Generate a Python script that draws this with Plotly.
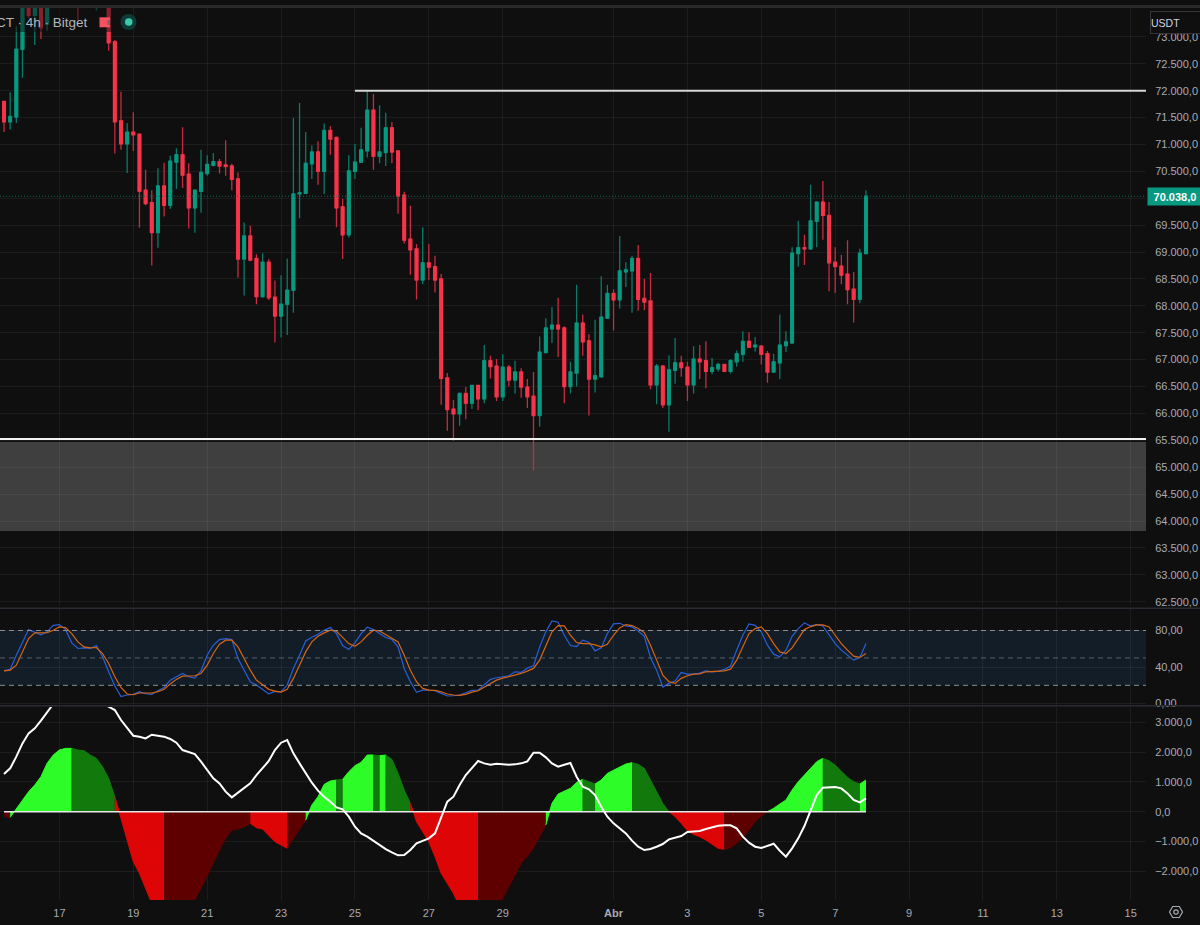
import pandas as pd
import plotly.graph_objects as go
from plotly.subplots import make_subplots

# 4h candles
opens = [
    71800, 71420, 71510, 72770, 73900, 73400, 73800, 73240, 73700, 74100,
    74350, 74200, 74000, 73800, 74000, 73900, 74100, 73800, 72910, 71440,
    71010, 71230, 71190, 70150, 69920, 69360, 70230, 69870, 70670, 70810,
    70450, 69820, 70130, 70460, 70610, 70680, 70620, 70600, 70360, 68870,
    69300, 68880, 68170, 68810, 68160, 67810, 68030, 68290, 70080, 70090,
    70640, 70860, 70500, 71260, 71130, 69840, 69320, 70500, 70670, 70880,
    71640, 70780, 70850, 71310, 70880, 70060, 69240, 69060, 68480, 68800,
    68730, 68500, 66660, 66080, 65990, 66370, 66190, 66520, 66270, 66980,
    66880, 66310, 66860, 66620, 66770, 66490, 66320, 65960, 67130, 67570,
    67640, 67590, 66500, 66750, 67680, 67350, 66640, 66680, 67770, 68230,
    68110, 68630, 68650, 68880, 68140, 68090, 66530, 66880, 66160, 66800,
    66940, 66860, 66530, 67010, 66980, 66780, 66830, 66910, 66780, 66960,
    67100, 67340, 67240, 67250, 67110, 66770, 66940, 67260, 67310, 68970,
    69080, 69060, 69570, 69930, 69680, 68810, 68740, 68590, 68310, 68120,
    68970,
]
highs = [
    71800, 71970, 73200, 74100, 74200, 74000, 74000, 73900, 74300, 74500,
    74700, 74600, 74300, 74200, 74300, 74400, 74300, 74000, 72940, 71980,
    71400, 71600, 71190, 70530, 70150, 70560, 70660, 70790, 70930, 71320,
    70650, 70150, 70900, 70800, 70840, 70730, 71080, 70640, 70480, 69550,
    69490, 68960, 68980, 68870, 68470, 68570, 68880, 71490, 71770, 71230,
    70980, 71060, 71390, 71340, 71150, 69990, 70800, 71010, 71310, 71990,
    71940, 71730, 71590, 71420, 70880, 70120, 69860, 69150, 69460, 69150,
    68930, 68590, 66750, 66250, 66390, 66490, 66530, 66530, 67270, 67070,
    67010, 67100, 66900, 66980, 66840, 66640, 66770, 67430, 67770, 67980,
    68150, 67620, 66960, 68390, 67840, 67470, 67740, 68550, 68390, 68310,
    69300, 68810, 68930, 69130, 68500, 68610, 66920, 66900, 67080, 67400,
    67070, 66960, 67250, 67270, 67340, 67030, 66940, 66920, 67010, 67170,
    67530, 67510, 67420, 67270, 67160, 67110, 67840, 67530, 69090, 69580,
    69320, 70250, 69930, 70320, 69930, 69090, 68950, 69220, 68630, 69060,
    70150,
]
lows = [
    71230, 71280, 71400, 72240, 73350, 72850, 72960, 73115, 73600, 73900,
    74100, 73900, 73310, 73600, 73700, 73490, 73700, 72740, 70830, 70900,
    70470, 70880, 69450, 69870, 68750, 69080, 69660, 69800, 70170, 70190,
    69440, 69360, 69730, 70420, 70590, 70460, 70420, 70150, 68520, 68190,
    68830, 68030, 68150, 68110, 67320, 67410, 67460, 67870, 69630, 70090,
    70360, 70250, 70080, 70810, 69460, 68870, 69270, 70360, 70670, 70760,
    70530, 70650, 70600, 70650, 69710, 69160, 68580, 68120, 68400, 68480,
    68250, 66160, 65680, 65490, 65770, 65890, 66080, 66060, 66190, 66650,
    66230, 66230, 66500, 66370, 66290, 66100, 64940, 65750, 67130, 67310,
    67050, 66190, 66370, 66500, 67070, 65960, 66390, 66680, 67770, 67540,
    67950, 68350, 67870, 67910, 67920, 66450, 66170, 66100, 65660, 66550,
    66680, 66230, 66370, 66640, 66470, 66730, 66780, 66770, 66740, 66870,
    66960, 67220, 67150, 66910, 66570, 66770, 66640, 67140, 67290, 68730,
    68760, 69040, 69090, 69230, 68270, 68240, 68400, 68030, 67690, 68050,
    68970,
]
closes = [
    71420, 71520, 72770, 73900, 73400, 73800, 73170, 73700, 74100, 74350,
    74200, 74000, 73800, 74000, 73900, 74100, 73800, 72890, 71420, 71010,
    71230, 71180, 70130, 69900, 69360, 70230, 69870, 70690, 70810, 70430,
    69820, 70150, 70480, 70630, 70680, 70600, 70590, 70350, 68870, 69300,
    68850, 68170, 68810, 68150, 67810, 68030, 68290, 70080, 70100, 70650,
    70860, 70500, 71260, 71100, 69820, 69320, 70510, 70670, 70900, 71640,
    70780, 70860, 71310, 70860, 70040, 69220, 69040, 68480, 68800, 68720,
    68480, 66650, 66070, 65990, 66370, 66190, 66520, 66270, 66980, 66870,
    66310, 66860, 66620, 66770, 66490, 66310, 65960, 67140, 67590, 67640,
    67570, 66500, 66770, 67680, 67330, 66640, 66700, 67790, 68230, 68110,
    68650, 68670, 68880, 68120, 68070, 66530, 66880, 66160, 66810, 66940,
    66850, 66530, 67010, 66960, 66780, 66850, 66910, 66780, 66980, 67110,
    67340, 67230, 67270, 67100, 66770, 66960, 67270, 67330, 68980, 69080,
    69060, 69580, 69930, 69680, 68800, 68730, 68570, 68300, 68120, 68980,
    70038,
]

# stochastic RSI
stoch_k = [
    35.9, 37.4, 53, 67.5, 81, 78.1, 75.2, 78.5, 85.7, 86.5,
    81, 66.5, 60.3, 61, 60.3, 63.6, 51.2, 34.8, 19.2, 7.6,
    9.4, 10.1, 13, 10.8, 10.1, 14.1, 17.7, 25.7, 29.4, 33,
    29.4, 27.9, 35.9, 53, 63.9, 70.1, 71.2, 70.1, 49.4, 36.6,
    23.9, 20.3, 15.6, 10.8, 13.4, 13, 20.3, 38.5, 53, 68.6,
    72.6, 75.9, 80.3, 83.2, 76.6, 63.6, 59.2, 66.5, 76.6, 83.5,
    81, 76.6, 72.3, 70.1, 62.1, 38.5, 23.9, 12.3, 14.8, 14.8,
    14.1, 11.2, 8.3, 8.6, 9.4, 11.9, 14.5, 14.8, 20.3, 26.5,
    28.3, 29, 30.5, 34.8, 34.1, 38.8, 41.4, 62.1, 78.5, 90.5,
    89, 74.8, 63.6, 62.5, 69.4, 67.2, 57.7, 61, 76.6, 87.2,
    87.9, 85, 83.9, 79.5, 73.7, 50.5, 36.6, 18.1, 22.1, 24.6,
    34.1, 32.3, 32.3, 33.4, 35.9, 34.8, 35.2, 37.4, 41, 58.5,
    74.8, 87.2, 85.7, 78.5, 63.9, 54.1, 51.2, 58.5, 73.7, 82.1,
    88.3, 85, 86.5, 85, 74.8, 65.7, 58.5, 53, 47.6, 50.5,
    65.7,
]
stoch_d = [
    35.9, 36.6, 42.1, 56.6, 71.2, 77.4, 77.7, 77.7, 80.3, 83.9,
    83.2, 76.6, 67.5, 62.1, 61, 61.4, 54.8, 43.9, 29.4, 17.7,
    10.5, 9.7, 11.6, 11.6, 11.6, 13, 15.6, 21.4, 26.5, 30.1,
    30.1, 30.5, 33, 42.1, 54.8, 65, 69.4, 69.4, 62.1, 49.4,
    36.6, 25.7, 20.3, 15.6, 13.7, 12.6, 15.6, 27.6, 42.1, 56.6,
    67.5, 73.7, 77.4, 80.3, 79.2, 72.3, 65.7, 62.8, 67.5, 74.8,
    80.3, 79.5, 75.5, 72.3, 67.5, 53, 36.6, 23.9, 16.6, 14.8,
    14.5, 13, 10.5, 9.4, 9, 10.1, 12.6, 14.1, 17.7, 22.1,
    25.7, 27.9, 29.4, 31.6, 33, 35.6, 38.5, 47.6, 63.9, 78.5,
    85.4, 85, 74.8, 66.8, 65.7, 65.7, 64.3, 62.1, 65, 74.8,
    82.8, 86.5, 85.4, 82.1, 77.7, 63.9, 47.6, 31.2, 23.9, 22.1,
    27.6, 30.5, 32.3, 32.6, 34.8, 35.2, 35.2, 35.9, 37.7, 47.6,
    62.1, 76.6, 82.1, 83.9, 76.6, 65.7, 56.6, 54.8, 61, 71.2,
    81, 84.3, 86.1, 86.1, 83.9, 74.8, 65.7, 58.5, 51.9, 50.5,
    54.8,
]

# lower momentum panel
hist = [
    -168, -190, 112, 392, 671, 895, 1175, 1622, 1902, 2069,
    2125, 2125, 2069, 2047, 1902, 1790, 1510, 1119, 503, -224,
    -951, -1678, -2069, -2573, -3020, -3635, -4083, -4083, -4195, -4083,
    -3859, -2964, -2573, -2125, -1734, -1286, -895, -615, -582, -503,
    -392, -537, -582, -783, -1007, -1119, -1230, -928, -615, -280,
    224, 503, 917, 1029, 1063, 1085, 1342, 1544, 1656, 1902,
    1902, 1879, 1902, 1756, 1286, 727, 280, -336, -671, -1007,
    -1510, -2069, -2405, -2741, -3188, -3747, -4083, -4307, -4754, -4083,
    -3356, -2908, -2517, -2125, -1734, -1488, -1230, -839, -447, 280,
    593, 694, 783, 984, 1085, 1007, 928, 1063, 1286, 1398,
    1510, 1600, 1644, 1588, 1454, 1063, 671, 280, 0, -168,
    -392, -638, -761, -839, -951, -1096, -1230, -1264, -1208, -1063,
    -861, -615, -336, -145, 0, 112, 257, 392, 727, 1007,
    1230, 1454, 1678, 1790, 1711, 1566, 1342, 1152, 1007, 928,
    1063,
]
signal = [
    1264, 1454, 1846, 2293, 2629, 2797, 3054, 3322, 3613, 3971,
    4083, 4139, 4083, 3971, 3859, 3747, 3635, 3546, 3412, 3076,
    2797, 2550, 2517, 2461, 2584, 2562, 2517, 2439, 2315, 2069,
    2002, 1935, 1678, 1398, 1119, 951, 671, 481, 638, 783,
    951, 1230, 1454, 1700, 2069, 2315, 2405, 1958, 1622, 1286,
    973, 705, 503, 336, 145, 78, -168, -503, -727, -839,
    -984, -1119, -1253, -1365, -1465, -1454, -1286, -1063, -973, -895,
    -727, -168, 336, 503, 895, 1230, 1477, 1700, 1622, 1577,
    1611, 1588, 1577, 1588, 1622, 1689, 1980, 1980, 1823, 1622,
    1510, 1577, 1633, 1175, 839, 749, 559, 168, -168, -392,
    -559, -727, -973, -1175, -1286, -1253, -1175, -1085, -928, -873,
    -817, -682, -660, -649, -582, -526, -470, -459, -459, -559,
    -839, -1040, -1175, -1219, -1141, -1074, -1309, -1510, -1230, -895,
    -481, 56, 559, 805, 817, 828, 783, 615, 392, 313,
    447,
]
# colour runs of the histogram, candle index where each run starts
hist_starts = [0, 1, 11, 18, 26, 40, 46, 49, 54, 55, 60, 61, 62, 66, 77, 88, 94, 96, 102, 108, 117, 124, 133, 139]
hist_kinds = ["dn2", "up1", "up2", "dn1", "dn2", "dn1", "dn2", "up1", "up2", "up1", "up2", "up1", "up2",
              "dn1", "dn2", "up1", "up2", "up1", "up2", "dn1", "dn2", "up1", "up2", "up1"]

price_ticks = [73000, 72500, 72000, 71500, 71000, 70500, 70000, 69500, 69000, 68500, 68000, 67500,
               67000, 66500, 66000, 65500, 65000, 64500, 64000, 63500, 63000, 62500]
price_labels = ["73.000,0", "72.500,0", "72.000,0", "71.500,0", "71.000,0", "70.500,0", "", "69.500,0",
                "69.000,0", "68.500,0", "68.000,0", "67.500,0", "67.000,0", "66.500,0", "66.000,0",
                "65.500,0", "65.000,0", "64.500,0", "64.000,0", "63.500,0", "63.000,0", "62.500,0"]
stoch_ticks = [0, 40, 80]
stoch_labels = ["0,00", "40,00", "80,00"]
hist_ticks = [3000, 2000, 1000, 0, -1000, -2000]
hist_labels = ["3.000,0", "2.000,0", "1.000,0", "0,0", "−1.000,0", "−2.000,0"]
date_ticks = ["2024-03-17", "2024-03-19", "2024-03-21", "2024-03-23", "2024-03-25", "2024-03-27", "2024-03-29",
              "2024-04-01", "2024-04-03", "2024-04-05", "2024-04-07", "2024-04-09", "2024-04-11", "2024-04-13",
              "2024-04-15"]
date_labels = ["17", "19", "21", "23", "25", "27", "29", "<b>Abr</b>", "3", "5", "7", "9", "11", "13", "15"]

dates = pd.date_range("2024-03-15 12:00", periods=len(closes), freq="4h")

BG = "#0f0f0f"
GRID = "rgba(255,255,255,0.055)"
TEXT = "#a8abb3"
FONT = "Liberation Sans"
UP = "#089981"
DOWN = "#f7344a"
HIST_COLOURS = {"up1": "#2efc28", "up2": "#127a0c", "dn1": "#dd0505", "dn2": "#5e0000"}
PLOT_W = 1146
PLOT_TOP = 8
PLOT_H = 892


def px(x):
    return x / PLOT_W


def py(y):
    return 1 - (y - PLOT_TOP) / PLOT_H


def paper_rect(x0, y0, x1, y1, **kw):
    fig.add_shape(type="rect", xref="paper", yref="paper", x0=px(x0), y0=py(y0), x1=px(x1), y1=py(y1), **kw)


fig = make_subplots(rows=3, cols=1, shared_xaxes=True, vertical_spacing=0.0)

# wicks first, then the bodies on top in the brighter colour
body_high = [max(o, c) for o, c in zip(opens, closes)]
body_low = [min(o, c) for o, c in zip(opens, closes)]
fig.add_trace(go.Candlestick(
    x=dates, open=opens, high=highs, low=lows, close=closes,
    increasing=dict(line=dict(color="#0b7a68", width=1.3), fillcolor=UP),
    decreasing=dict(line=dict(color="#c92a40", width=1.3), fillcolor=DOWN),
    whiskerwidth=0,
), row=1, col=1)
fig.add_trace(go.Candlestick(
    x=dates, open=opens, high=body_high, low=body_low, close=closes,
    increasing=dict(line=dict(color=UP, width=1), fillcolor=UP),
    decreasing=dict(line=dict(color=DOWN, width=1), fillcolor=DOWN),
    whiskerwidth=0,
), row=1, col=1)

fig.add_trace(go.Scatter(x=dates, y=stoch_k, mode="lines", line=dict(color="#2a5fd8", width=1.2)), row=2, col=1)
fig.add_trace(go.Scatter(x=dates, y=stoch_d, mode="lines", line=dict(color="#d9660f", width=1.2)), row=2, col=1)

for n, start in enumerate(hist_starts):
    end = hist_starts[n + 1] if n + 1 < len(hist_starts) else len(hist) - 1
    colour = HIST_COLOURS[hist_kinds[n]]
    fig.add_trace(go.Scatter(x=dates[start:end + 1], y=hist[start:end + 1], mode="lines", fill="tozeroy",
                             fillcolor=colour, line=dict(color=colour, width=1)), row=3, col=1)
fig.add_trace(go.Scatter(x=dates, y=[0] * len(dates), mode="lines", line=dict(color="#e8e8e8", width=1.5)), row=3, col=1)
fig.add_trace(go.Scatter(x=dates, y=signal, mode="lines", line=dict(color="#ffffff", width=2)), row=3, col=1)

x_start = dates[0] - pd.Timedelta(hours=2.6)
x_end = dates[0] + pd.Timedelta(hours=4 * 185.48)

axis_font = dict(family=FONT, size=11, color=TEXT)
fig.update_xaxes(range=[x_start, x_end], tickvals=date_ticks, ticktext=date_labels, showgrid=True, gridcolor=GRID,
                 gridwidth=1, zeroline=False, showline=False, rangeslider_visible=False, tickfont=axis_font,
                 ticks="outside", ticklen=3, tickcolor=BG)
fig.update_yaxes(side="right", showgrid=True, gridcolor=GRID, gridwidth=1, zeroline=False, showline=False,
                 tickfont=axis_font, ticks="outside", ticklen=6, tickcolor=BG)

fig.update_layout(
    width=1200, height=925, showlegend=False, hovermode=False,
    paper_bgcolor=BG, plot_bgcolor=BG, boxgap=0.36,
    margin=dict(l=0, r=54, t=PLOT_TOP, b=25, autoexpand=False),
    yaxis=dict(domain=[py(606), py(PLOT_TOP)], range=[62420, 73537], tickvals=price_ticks, ticktext=price_labels),
    yaxis2=dict(domain=[py(705.7), py(608.3)], range=[-2.3, 104.3], tickvals=stoch_ticks, ticktext=stoch_labels),
    yaxis3=dict(domain=[py(900), py(707)], range=[-2963, 3513], tickvals=hist_ticks, ticktext=hist_labels),
)

# support zone and levels
fig.add_shape(type="rect", xref="paper", yref="y", x0=0, x1=1, y0=63815, y1=65470, fillcolor="#3f3f3f",
              line_width=0, layer="below")
fig.add_shape(type="line", xref="paper", yref="y", x0=0, x1=1, y0=65525, y1=65525, line=dict(color="#f2f2f2", width=2))
fig.add_shape(type="line", xref="x", yref="y", x0=dates[57], x1=x_end, y0=72000, y1=72000,
              line=dict(color="#d6d6d6", width=2))
fig.add_shape(type="line", xref="paper", yref="y", x0=0, x1=1, y0=70038, y1=70038,
              line=dict(color="#0c6f5f", width=1, dash="1px,2px"))

# stochastic band
fig.add_shape(type="rect", xref="paper", yref="y2", x0=0, x1=1, y0=20, y1=80, fillcolor="#121d28",
              line_width=0, layer="below")
for level, shade in [(20, "#8a8d96"), (50, "#566069"), (80, "#8a8d96")]:
    fig.add_shape(type="line", xref="paper", yref="y2", x0=0, x1=1, y0=level, y1=level,
                  line=dict(color=shade, width=1, dash="5px,4px"))

# panel separators and top bar
for sep in [608.3, 705.7]:
    fig.add_shape(type="line", xref="paper", yref="paper", x0=0, x1=1200 / PLOT_W, y0=py(sep), y1=py(sep),
                  line=dict(color="#2a2c33", width=1.5))
paper_rect(0, 5, 1200, 8, fillcolor="#2a2a2a", line_width=0)

# fade behind the legend text
paper_rect(0, 8, 114, 32, fillcolor="rgba(15,15,15,0.5)", line_width=0)
paper_rect(99.5, 17.3, 110, 27.3, fillcolor="#f7525f", line_width=0)
paper_rect(107.5, 20, 110, 25, fillcolor="#8a5a5e", line_width=0)
fig.add_shape(type="circle", xref="paper", yref="paper", x0=px(120.5), x1=px(136.5), y0=py(14), y1=py(30),
              fillcolor="#0d3a35", line_width=0)
fig.add_shape(type="circle", xref="paper", yref="paper", x0=px(125), x1=px(132.5), y0=py(18.2), y1=py(25.7),
              fillcolor="#3fc9ac", line_width=0)

fig.add_annotation(xref="paper", yref="paper", x=px(90), y=py(22.5), xanchor="right", yanchor="middle",
                   text="CT · 4h · Bitget", showarrow=False, font=dict(family=FONT, size=13.5, color="#b4b6bc"))
fig.add_annotation(xref="paper", yref="y", x=px(1147), y=70038, xanchor="left", yanchor="middle", width=52, height=15,
                   text="<b>70.038,0</b>", showarrow=False, bgcolor=UP, borderpad=1,
                   font=dict(family=FONT, size=11, color="#ffffff"))
fig.add_annotation(xref="paper", yref="paper", x=px(1150), y=py(23), xanchor="left", yanchor="middle", width=50,
                   height=21, text="USDT", align="left", showarrow=False, bgcolor=BG, bordercolor="#34363c",
                   borderwidth=1, borderpad=0, font=dict(family=FONT, size=10.5, color="#cfd6e4"))
fig.add_shape(type="path", xref="paper", yref="paper", line=dict(color="#b4b6bc", width=1),
              path=f"M {px(1192)} {py(22)} L {px(1195)} {py(25)} L {px(1198)} {py(22)}")

# settings icon, bottom right
hexagon = [(1169.5, 912), (1172.7, 906.5), (1179.3, 906.5), (1182.5, 912), (1179.3, 917.5), (1172.7, 917.5)]
fig.add_shape(type="path", xref="paper", yref="paper", line=dict(color=TEXT, width=1.2),
              path="M " + " L ".join(f"{px(a)} {py(b)}" for a, b in hexagon) + " Z")
fig.add_shape(type="circle", xref="paper", yref="paper", x0=px(1173.8), x1=px(1178.2), y0=py(909.8), y1=py(914.2),
              line=dict(color=TEXT, width=1.2))

# the page keeps its default margin otherwise and the chart slides out of the window
fig.write_html("out.html", config={"displayModeBar": False},
               post_script="document.body.style.margin='0';document.body.style.overflow='hidden';")
